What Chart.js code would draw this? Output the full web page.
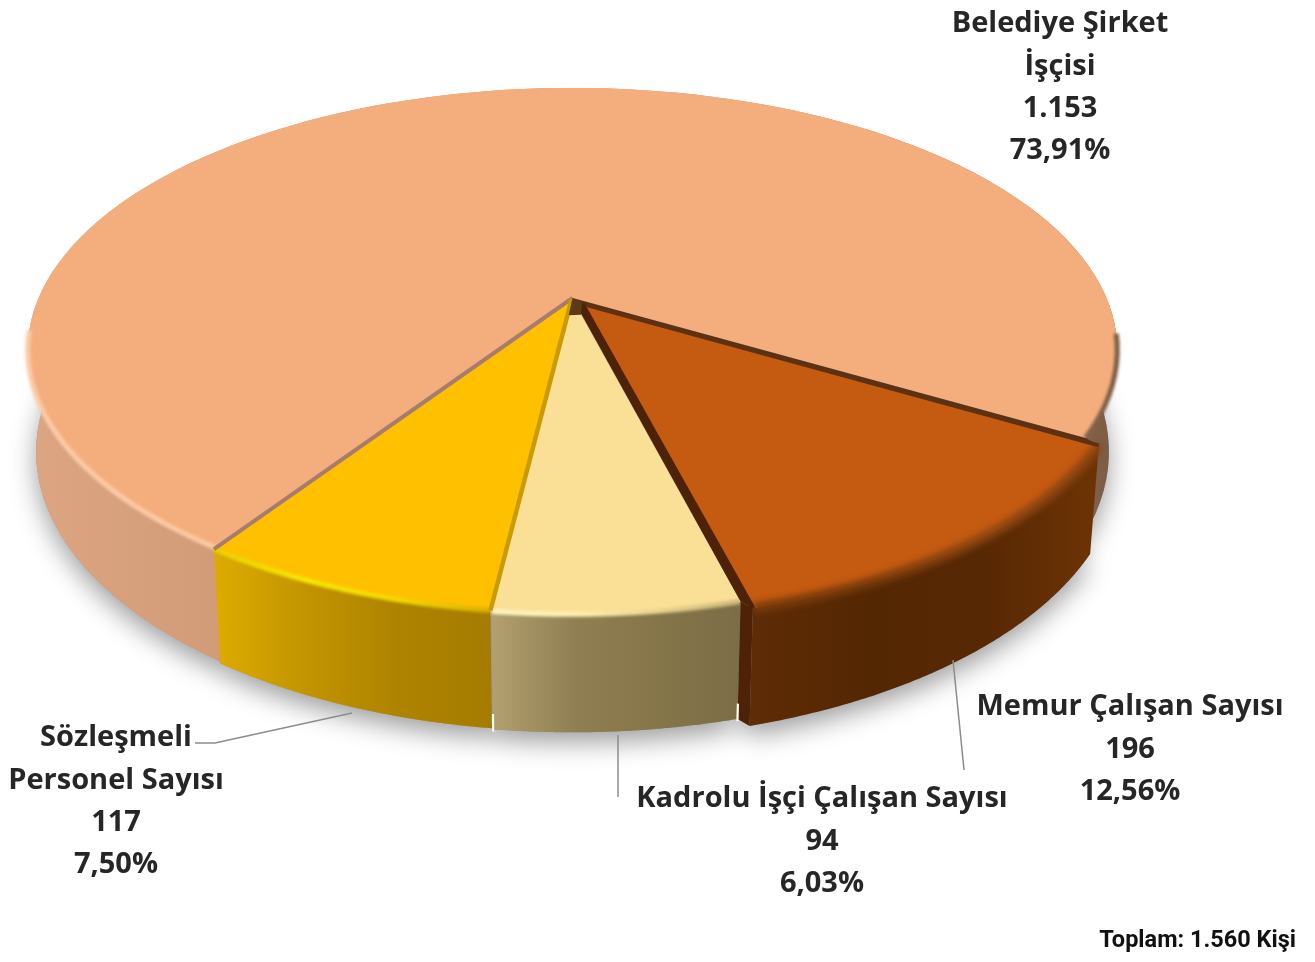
<!DOCTYPE html>
<html lang="tr">
<head>
<meta charset="utf-8">
<title>Toplam Personel</title>
<style>
    html, body { margin: 0; padding: 0; background: #fff; }
    canvas { display: block; }
</style>
<script src="https://cdn.jsdelivr.net/npm/chart.js@4/dist/chart.umd.min.js"></script>
</head>
<body>
<canvas id="pie" width="1315" height="962"></canvas>
<script>
// Chart data
const categories = [
    ['Belediye Şirket', 'İşçisi'],
    ['Memur Çalışan Sayısı'],
    ['Kadrolu İşçi Çalışan Sayısı'],
    ['Sözleşmeli', 'Personel Sayısı']
];
const values = [1153, 196, 94, 117];
const valueLabels = ['1.153', '196', '94', '117'];
const percentLabels = ['73,91%', '12,56%', '6,03%', '7,50%'];
const totalLabel = 'Toplam: 1.560 Kişi';

// Slice styles, same order as the data
const topColors = ['#F4AE7E', '#C55A11', '#FAE096', '#FFC000'];
const sliceOffsets = [0, 14, 3, 2];
const sideStops = [
    ['#DDA582', '#C9936E', '#C4906C', '#7B5C44'],
    ['#5E2C06', '#542703', '#572804', '#6E3304'],
    ['#B3A070', '#8F7F52', '#857549', '#7C6D47'],
    ['#DDAC00', '#C29400', '#AE8300', '#A67C00']
];
const rimStops = [
    ['#FCCBA8', '#FBC6A0', '#F4AE7E', '#7B5C44'],
    ['#7A3A0A', '#7A3A0A', '#8A4410', '#8A4410'],
    ['#FFF6C0', '#FFF0B4', '#E8D48E', '#C8B57A'],
    ['#E8D000', '#F7E800', '#F2D800', '#D9AE00']
];

// Perspective of the pie plate on the page
const view = { cx: 572.5, cy: 298, rx: 534, ry: 251.7, k: 0.198, h: 101, m: 0.015 };

function project(u, v, z) {
    const w = 1 - view.k * v + view.m * z;
    return {
        x: view.cx + view.rx * u / w,
        y: view.cy + (view.ry * v + view.h * z) / w
    };
}

// Rim points of one arc, sampled from the angles Chart.js computed
function rimPoints(arc, z, steps) {
    const off = arc.options.offset / arc.outerRadius;
    const mid = (arc.startAngle + arc.endAngle) / 2;
    const pts = [];
    for (let i = 0; i <= steps; i++) {
        const a = arc.startAngle + (arc.endAngle - arc.startAngle) * i / steps;
        const p = project(off * Math.cos(mid) + Math.cos(a), off * Math.sin(mid) + Math.sin(a), z);
        p.a = a;
        pts.push(p);
    }
    return pts;
}

function apexPoint(arc, z) {
    const off = arc.options.offset / arc.outerRadius;
    const mid = (arc.startAngle + arc.endAngle) / 2;
    return project(off * Math.cos(mid), off * Math.sin(mid), z);
}

function tracePoints(ctx, pts, start) {
    pts.forEach((p, i) => {
        if (i === 0 && start) ctx.moveTo(p.x, p.y);
        else ctx.lineTo(p.x, p.y);
    });
}

function xGradient(ctx, pts, stops) {
    const xs = pts.map(p => p.x);
    const g = ctx.createLinearGradient(Math.min(...xs), 0, Math.max(...xs), 0);
    stops.forEach((c, i) => g.addColorStop(i / (stops.length - 1), c));
    return g;
}

const platePlugin = {
    id: 'plate',
    beforeDatasetsDraw(chart) {
        const ctx = chart.ctx;
        const arcs = chart.getDatasetMeta(0).data;
        const steps = 120;
        const [belediye, memur, kadrolu, sozlesmeli] = arcs;

        const edge = (arc, atEnd, z) => rimPoints(arc, z || 0, 1)[atEnd ? 1 : 0];
        const lerp = (a, b, t) => ({ x: a.x + (b.x - a.x) * t, y: a.y + (b.y - a.y) * t });
        const band = (a, b, c, d, color) => {
            ctx.beginPath();
            ctx.moveTo(a.x, a.y);
            ctx.lineTo(b.x, b.y);
            ctx.lineTo(c.x, c.y);
            ctx.lineTo(d.x, d.y);
            ctx.closePath();
            ctx.fillStyle = color;
            ctx.fill();
        };
        const line = (a, b, width, color) => {
            ctx.beginPath();
            ctx.moveTo(a.x, a.y);
            ctx.lineTo(b.x, b.y);
            ctx.lineWidth = width;
            ctx.strokeStyle = color;
            ctx.stroke();
        };

        // soft shadow under the plate
        ctx.save();
        ctx.shadowColor = 'rgba(0,0,0,0.38)';
        ctx.shadowBlur = 26;
        ctx.shadowOffsetY = 10;
        ctx.fillStyle = '#999';
        arcs.forEach(arc => {
            ctx.beginPath();
            ctx.moveTo(apexPoint(arc, 1).x, apexPoint(arc, 1).y);
            tracePoints(ctx, rimPoints(arc, 1, steps), false);
            ctx.closePath();
            ctx.fill();
        });
        ctx.restore();

        // back slice first, then the front ones
        [0, 3, 2, 1].forEach(i => {
            const arc = arcs[i];
            const top = rimPoints(arc, 0, steps);
            const bottom = rimPoints(arc, 1, steps);

            // side wall
            ctx.beginPath();
            tracePoints(ctx, top, true);
            tracePoints(ctx, bottom.slice().reverse(), false);
            ctx.closePath();
            ctx.fillStyle = xGradient(ctx, top, sideStops[i]);
            ctx.fill();

            // top face
            ctx.beginPath();
            ctx.moveTo(apexPoint(arc, 0).x, apexPoint(arc, 0).y);
            tracePoints(ctx, top, false);
            ctx.closePath();
            ctx.fillStyle = arc.options.backgroundColor;
            ctx.fill();

            // bevel on the front part of the rim
            ctx.save();
            ctx.filter = i === 1 ? 'blur(3px)' : 'blur(1.6px)';
            ctx.lineWidth = i === 1 ? 10 : 5;
            ctx.lineCap = 'butt';
            ctx.strokeStyle = xGradient(ctx, top, rimStops[i]);
            ctx.beginPath();
            let pen = false;
            top.forEach(p => {
                if (Math.sin(p.a) > 0.1) {
                    if (pen) ctx.lineTo(p.x, p.y);
                    else ctx.moveTo(p.x, p.y);
                    pen = true;
                } else {
                    pen = false;
                }
            });
            ctx.stroke();
            ctx.restore();
        });

        // inner walls seen in the cuts between slices
        const centre = apexPoint(belediye, 0);
        const memurApex = apexPoint(memur, 0);
        line(centre, edge(sozlesmeli, true), 4, '#A87C6C');
        line(apexPoint(sozlesmeli, 0), edge(sozlesmeli, false), 4.5, '#C99B00');
        band(centre, edge(belediye, true), edge(memur, false), memurApex, '#5C3212');
        line(memurApex, edge(memur, false), 4, '#5C3212');
        band(centre, edge(kadrolu, false), edge(memur, true), memurApex, '#4E2206');
        line(memurApex, edge(memur, true), 5, '#4E2206');
        band(edge(kadrolu, false), edge(memur, true), edge(memur, true, 1), edge(kadrolu, false, 1), '#4E2206');

        // dark knot where the cuts meet
        const kadroluApex = apexPoint(kadrolu, 0);
        band(centre, memurApex,
            lerp(kadroluApex, edge(kadrolu, false), 0.05),
            lerp(kadroluApex, edge(kadrolu, true), 0.05), '#5C3A18');

        // small white notches at the foot of the Kadrolu slice
        [edge(kadrolu, true), edge(kadrolu, false)].forEach((p, n) => {
            const foot = edge(kadrolu, n === 0, 1);
            line(lerp(p, foot, 0.87), lerp(p, foot, 1.02), 2.2, '#FFFFFF');
        });

        return false; // the plate replaces the flat arcs
    },
    afterDraw(chart) {
        const ctx = chart.ctx;

        // leader lines
        ctx.save();
        ctx.strokeStyle = '#8C8C8C';
        ctx.lineWidth = 1.5;
        [
            [[195, 743], [215, 743], [352, 713]],
            [[618, 735], [618, 797]],
            [[953, 660], [964, 770]]
        ].forEach(path => {
            ctx.beginPath();
            path.forEach(([x, y], i) => (i ? ctx.lineTo(x, y) : ctx.moveTo(x, y)));
            ctx.stroke();
        });
        ctx.restore();

        // data labels
        const anchors = [[1060, 24], [1130, 707], [822, 799], [116, 738]];
        ctx.save();
        ctx.filter = 'blur(0.5px)';
        ctx.font = 'bold 29px "Open Sans"';
        ctx.fillStyle = '#262626';
        ctx.textAlign = 'center';
        ctx.textBaseline = 'middle';
        categories.forEach((name, i) => {
            const lines = [...name, valueLabels[i], percentLabels[i]];
            lines.forEach((text, n) => {
                ctx.fillText(text, anchors[i][0], anchors[i][1] + n * 42.3);
            });
        });
        ctx.filter = 'none';
        ctx.font = 'bold 23.5px Roboto';
        ctx.fillStyle = '#111';
        ctx.textAlign = 'right';
        ctx.fillText(totalLabel, 1296, 941);
        ctx.restore();
    }
};

new Chart(document.getElementById('pie'), {
    type: 'pie',
    data: {
        labels: categories.map(name => name.join(' ')),
        datasets: [{
            data: values,
            backgroundColor: topColors,
            offset: sliceOffsets,
            borderWidth: 0
        }]
    },
    options: {
        responsive: false,
        animation: false,
        rotation: 214,
        plugins: {
            legend: { display: false },
            tooltip: { enabled: false }
        }
    },
    plugins: [platePlugin]
});
</script>
</body>
</html>
